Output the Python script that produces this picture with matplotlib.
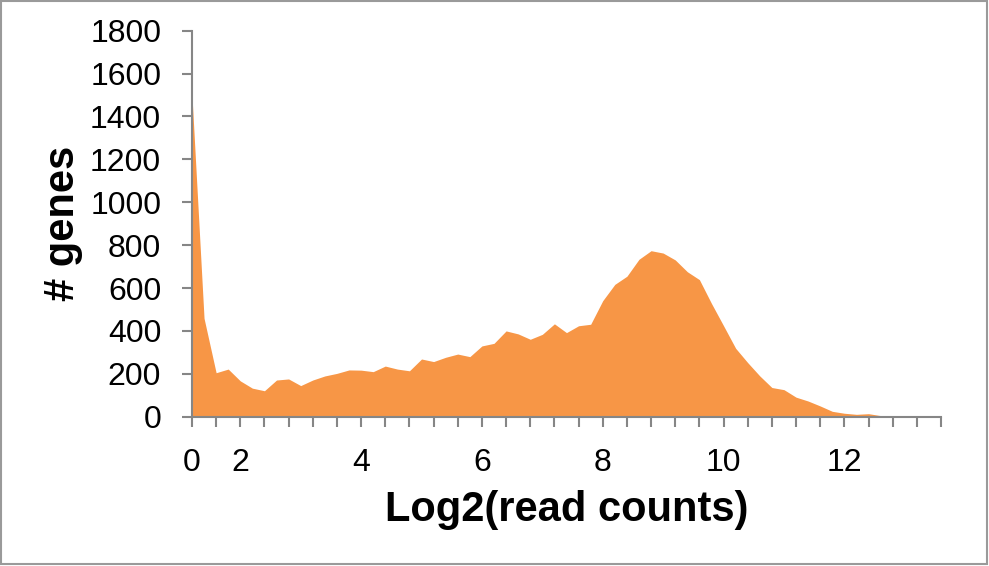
import numpy as np
import matplotlib

matplotlib.use("Agg")
import matplotlib.pyplot as plt
from matplotlib.patches import Rectangle

# 每个分箱的基因数
gene_counts = [
    1500, 459, 205, 222, 167, 133, 121, 171, 176, 145,
    171, 190, 202, 218, 217, 210, 236, 222, 214, 269,
    257, 277, 292, 280, 330, 342, 400, 386, 361, 384,
    433, 392, 424, 431, 541, 617, 655, 734, 774, 763,
    731, 676, 639, 528, 424, 319, 252, 190, 136, 126,
    91, 73, 50, 25, 16, 11, 14, 5, 2, 1,
    1, 0, 0,
]
label_bins = [0, 4, 14, 24, 34, 44, 54]
label_texts = ["0", "2", "4", "6", "8", "10", "12"]
y_ticks = [0, 200, 400, 600, 800, 1000, 1200, 1400, 1600, 1800]

plt.rcParams["font.family"] = ["Liberation Sans", "DejaVu Sans"]

axis_gray = "#868686"
fill_color = "#F79646"

fig = plt.figure(figsize=(9.89, 5.66), dpi=100)
ax = fig.add_axes([0.1941, 0.2638, 0.7574, 0.682])

x = np.arange(len(gene_counts))
ax.fill_between(x, 0, gene_counts, color=fill_color, linewidth=0)

ax.set_xlim(0, len(gene_counts) - 1)
ax.set_ylim(0, 1800)

# 坐标轴样式
for side in ["top", "right"]:
    ax.spines[side].set_visible(False)
for side in ["left", "bottom"]:
    ax.spines[side].set_color(axis_gray)
    ax.spines[side].set_linewidth(1.5)

ax.set_yticks(y_ticks)
ax.set_yticklabels([str(v) for v in y_ticks])
ax.set_xticks(label_bins)
ax.set_xticklabels(label_texts)
ax.set_xticks(np.arange(0, len(gene_counts), 2), minor=True)

ax.tick_params(axis="both", which="both", direction="out", length=7.2,
               width=1.5, color=axis_gray, labelsize=23)
ax.tick_params(axis="y", pad=15)
ax.tick_params(axis="x", pad=15)

ax.set_xlabel("Log2(read counts)", fontsize=30, fontweight="bold")
ax.set_ylabel("# genes", fontsize=30, fontweight="bold")
ax.xaxis.set_label_coords(0.5, -0.19)
ax.xaxis.label.set_verticalalignment("top")
ax.yaxis.set_label_coords(-0.172, 0.5)
ax.yaxis.label.set_verticalalignment("center")

# 外框
fig.patches.append(Rectangle((0.001, 0.003), 0.997, 0.995, transform=fig.transFigure,
                             fill=False, edgecolor="#9a9a9a", linewidth=1.5))

fig.savefig("out.png", dpi=100)
plt.close(fig)
